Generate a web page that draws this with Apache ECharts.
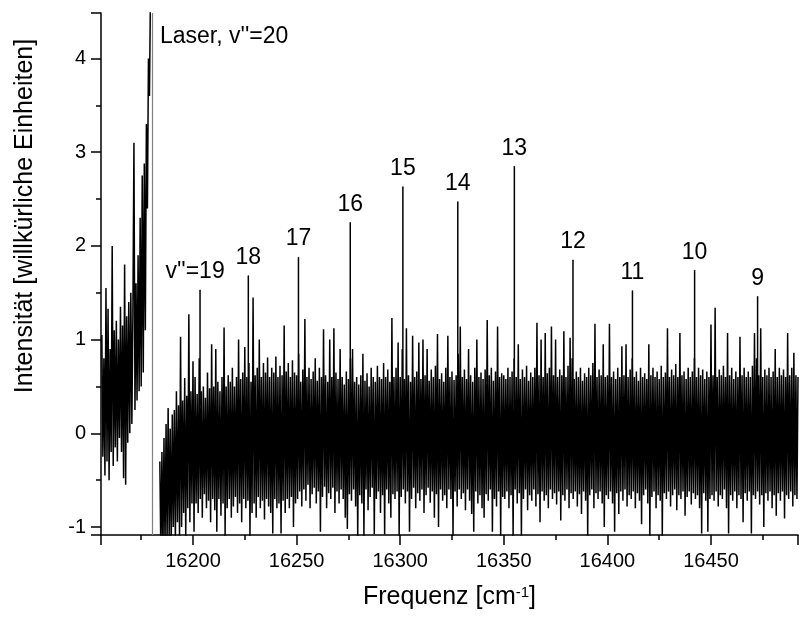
<!DOCTYPE html>
<html>
<head>
<meta charset="utf-8">
<style>
  html, body { width: 100%; height: 100%; margin: 0; background: #fff; }
  #chart-panel { width: 801px; height: 620px; }
</style>
<script src="https://cdn.jsdelivr.net/npm/echarts@6/dist/echarts.min.js"></script>
</head>
<body>
<div id="chart-panel"></div>
<script type="text/javascript">
const stepX = 0.5;

// left wing next to the laser line, 16156 .. 16179.5
const wingStart = 16156;
const wingY = [
  1.05, -0.25, 0.8, -0.45, 1.55, -0.3, 1.33, -0.5, 0.9, -0.2, 2.0, -0.35, 1.1, -0.15, 1.2, -0.3,
  1.0, -0.05, 1.35, -0.2, 1.15, -0.48, 1.8, -0.55, 1.25, -0.1, 1.4, 0.0, 1.5, 0.1, 1.3, 3.1,
  0.25, 1.6, 0.35, 1.9, 0.45, 2.3, 0.5, 2.75, 0.65, 2.88, 1.1, 3.3, 2.4, 4.0, 3.6, 4.8
];

// main band, starts at 16184
const bandStart = 16184;
const bandRise = [
  -0.3, -1.3, -0.2, -1.25, -0.05, -1.2, 0.1, -1.15, 0.27, -1.1, 0.05, -1.2, 0.2, -1.0, 0.25, -1.15,
  0.45, -0.95, 0.3, -1.1, 1.03, -1.0, 0.35, -0.85, 0.59, -1.1, 0.4, -0.8, 1.27, -0.95, 0.45, -0.75
];
const band16200 = [
  0.77, -1.05, 0.6, -0.75, 0.42, -0.85, 0.8, -0.7, 0.45, -0.9, 0.5, -0.65, 0.38, -0.8, 0.65, -0.72, 0.48, -0.95, 0.95, -0.7,
  0.5, -0.82, 0.9, -1.05, 0.55, -0.7, 0.45, -0.88, 0.6, -0.75, 1.13, -1.1, 0.5, -0.8, 0.62, -0.7, 0.55, -0.9, 0.7, -0.78,
  0.5, -0.68, 0.6, -0.85, 1.0, -0.75, 0.58, -0.95, 0.65, -0.7, 0.92, -0.8, 0.6, -0.72, 0.75, -1.1, 0.55, -0.85, 1.45, -0.75,
  0.62, -0.9, 0.7, -0.68, 1.0, -0.8, 0.6, -0.72, 0.75, -0.92, 0.65, -0.7, 0.81, -0.78, 0.6, -0.85, 0.7, -1.07, 0.65, -0.7,
  0.82, -0.8, 0.6, -0.75, 0.72, -1.07, 0.62, -0.72, 1.15, -0.85, 0.66, -0.7, 0.75, -0.8, 0.6, -0.68, 0.78, -1.0, 0.65, -0.75
];
const band16250 = [
  0.62, -0.7, 0.85, -0.62, 0.55, -0.78, 0.68, -0.6, 1.22, -0.72, 0.6, -0.55, 0.7, -0.8, 0.58, -0.65, 0.66, -0.58, 0.8, -0.75,
  0.56, -0.62, 0.7, -1.05, 0.6, -0.68, 1.11, -0.57, 0.62, -0.8, 0.55, -0.64, 1.0, -0.7, 0.6, -0.58, 1.12, -0.85, 0.65, -0.62,
  0.58, -0.75, 0.9, -0.6, 0.6, -0.7, 0.52, -0.9, 0.66, -1.02, 0.58, -0.65, 0.8, -0.72, 0.9, -0.6, 0.55, -0.78, 0.6, -1.1,
  0.52, -0.66, 0.62, -0.75, 0.85, -1.1, 0.56, -0.6, 0.64, -0.82, 0.5, -0.68, 0.7, -0.58, 0.6, -1.08, 0.55, -0.7, 0.72, -0.62,
  0.6, -0.85, 0.58, -0.66, 0.75, -1.08, 0.6, -0.6, 0.68, -0.75, 0.55, -0.9, 1.23, -0.65, 0.6, -0.7, 0.7, -0.62, 0.97, -1.1
];
const band16300 = [
  0.6, -0.68, 0.9, -0.6, 0.58, -0.75, 1.12, -0.62, 0.62, -1.05, 0.55, -0.7, 1.04, -0.58, 0.6, -0.8, 0.66, -0.64, 0.97, -0.72,
  0.58, -0.6, 1.0, -0.85, 0.62, -0.66, 0.9, -0.58, 0.56, -0.74, 0.68, -0.62, 0.6, -0.9, 0.72, -0.65, 1.06, -1.0, 0.58, -0.6,
  0.64, -0.72, 0.55, -0.66, 0.7, -0.8, 1.04, -0.6, 0.6, -0.7, 0.66, -1.1, 0.57, -0.62, 0.62, -0.78, 0.85, -0.6, 1.14, -0.7,
  0.6, -0.64, 0.68, -0.82, 0.58, -0.6, 0.9, -0.72, 0.62, -0.86, 0.55, -1.05, 0.7, -0.62, 1.0, -0.75, 0.6, -0.66, 0.65, -0.8,
  0.58, -0.9, 0.68, -0.65, 1.21, -0.72, 0.62, -0.6, 0.7, -1.05, 0.56, -0.7, 0.66, -0.78, 1.14, -0.62, 0.6, -1.1, 0.64, -0.68
];
const band16350 = [
  0.62, -0.7, 0.58, -0.62, 0.7, -0.8, 0.6, -0.66, 0.66, -1.1, 0.8, -0.6, 0.6, -0.75, 0.95, -0.64, 0.58, -1.1, 0.68, -0.7,
  0.6, -0.6, 0.72, -0.82, 0.56, -0.66, 0.65, -0.72, 0.6, -0.6, 0.7, -0.78, 1.18, -0.65, 0.62, -0.95, 1.0, -0.62, 0.6, -0.72,
  1.07, -0.66, 0.64, -0.8, 0.7, -0.6, 1.14, -0.7, 0.62, -0.64, 1.0, -0.76, 0.6, -0.62, 0.68, -0.93, 0.62, -0.66, 1.09, -0.72,
  0.6, -0.6, 0.72, -0.8, 1.02, -0.64, 0.8, -0.7, 0.58, -0.62, 0.66, -0.78, 0.6, -0.65, 0.7, -0.86, 0.56, -0.62, 0.64, -0.72,
  0.6, -1.1, 0.7, -0.66, 0.62, -0.6, 0.75, -0.8, 1.17, -0.64, 0.6, -0.7, 0.68, -0.62, 0.62, -0.75, 0.95, -1.0, 0.6, -0.66
];
const band16400 = [
  0.62, -0.7, 1.17, -0.62, 0.6, -0.75, 0.66, -1.05, 0.58, -0.64, 0.7, -0.86, 0.6, -0.62, 0.93, -0.72, 0.62, -0.6, 0.95, -0.78,
  0.6, -0.66, 0.68, -0.7, 0.8, -0.62, 0.6, -0.8, 0.66, -0.64, 0.56, -0.72, 0.7, -0.97, 0.6, -0.66, 0.64, -0.6, 0.58, -0.75,
  0.95, -1.1, 0.62, -0.68, 0.7, -0.62, 0.6, -0.8, 0.66, -0.66, 0.58, -0.72, 0.72, -1.1, 0.6, -0.64, 0.65, -0.7, 1.12, -0.62,
  0.6, -0.78, 0.68, -0.66, 0.62, -0.6, 0.74, -0.82, 0.6, -0.66, 1.07, -0.7, 0.62, -0.62, 0.66, -0.88, 0.58, -0.68, 0.7, -0.62,
  0.6, -0.76, 0.66, -0.64, 0.8, -0.7, 0.6, -0.66, 0.7, -0.8, 0.62, -1.07, 0.68, -0.64, 0.58, -0.72, 0.66, -1.05, 0.6, -0.7
];
const band16450 = [
  1.16, -0.66, 0.62, -0.72, 1.34, -0.62, 0.6, -0.78, 0.68, -0.66, 0.62, -0.7, 0.72, -0.6, 0.6, -0.8, 1.07, -1.07, 0.62, -0.66,
  0.7, -0.72, 0.58, -0.62, 0.66, -0.8, 0.6, -0.66, 1.03, -0.7, 0.62, -0.95, 0.7, -0.64, 0.6, -0.72, 0.66, -0.62, 0.6, -1.07,
  0.72, -0.66, 1.07, -0.7, 0.8, -0.62, 0.62, -0.76, 1.12, -0.66, 0.6, -1.0, 0.68, -0.64, 0.62, -0.72, 0.7, -0.62, 0.6, -0.8,
  0.66, -0.66, 0.9, -0.88, 0.6, -0.64, 0.7, -0.72, 0.62, -0.62, 0.68, -0.91, 0.6, -0.66, 1.07, -0.7, 0.62, -0.62, 0.7, -0.78,
  0.86, -0.66, 0.62, -0.7, 0.6
];

// assigned lines v'' and their peak heights
const peakX = [16203.4, 16226.7, 16250.9, 16275.9, 16301.3, 16327.8, 16355.1, 16383.4, 16412.1, 16442.1, 16472.5];
const peakY = [1.53, 1.68, 1.88, 2.25, 2.63, 2.47, 2.85, 1.85, 1.52, 1.74, 1.46];
const peakLabels = ["v''=19", '18', '17', '16', '15', '14', '13', '12', '11', '10', '9'];
const peakFoot = 0.3;

const laserX = 16180.5;

const font = 'Liberation Sans';

function toPoints(start, ys) {
  return ys.map((y, i) => [start + i * stepX, y]);
}

const bandY = [].concat(bandRise, band16200, band16250, band16300, band16350, band16400, band16450);

const peakData = [];
peakX.forEach(function (x, i) {
  peakData.push([x, peakFoot]);
  peakData.push([x, peakY[i]]);
  peakData.push([x, '-']);
});
const tagData = peakX.map(function (x, i) {
  return {
    value: [x, peakY[i]],
    label: { formatter: peakLabels[i], offset: i === 0 ? [-5, 0] : [0, 0] }
  };
});

const lineStyle = { color: '#000', width: 1.5, join: 'bevel' };

const chart = echarts.init(document.getElementById('chart-panel'));

const option = {
  animation: false,
  textStyle: { fontFamily: font },
  grid: { left: 101, right: 0, top: 13, bottom: 85 },
  xAxis: {
    type: 'value',
    min: 16155.6,
    max: 16492,
    splitLine: { show: false },
    axisLine: { onZero: false, lineStyle: { color: '#000', width: 1.5 } },
    axisTick: { length: 10, lineStyle: { color: '#000', width: 1.5 } },
    minorTick: { show: true, splitNumber: 2, length: 5, lineStyle: { color: '#000', width: 1.5 } },
    axisLabel: {
      color: '#000', fontSize: 20, fontFamily: font, margin: 16,
      formatter: function (v) { return Math.abs(v % 50) < 1e-6 ? String(v) : ''; }
    },
    name: 'Frequenz [cm{sup|-1}]',
    nameLocation: 'middle',
    nameGap: 50,
    nameTextStyle: {
      color: '#000', fontSize: 25, fontFamily: font,
      rich: { sup: { fontSize: 15, fontFamily: font, color: '#000', verticalAlign: 'top' } }
    }
  },
  yAxis: {
    type: 'value',
    min: -1.085,
    max: 4.485,
    splitLine: { show: false },
    axisLine: { onZero: false, lineStyle: { color: '#000', width: 1.5 } },
    axisTick: { length: 10, lineStyle: { color: '#000', width: 1.5 } },
    minorTick: { show: true, splitNumber: 2, length: 5, lineStyle: { color: '#000', width: 1.5 } },
    axisLabel: {
      color: '#000', fontSize: 20, fontFamily: font, margin: 15,
      formatter: function (v) { return Math.abs(v - Math.round(v)) < 1e-6 ? String(Math.round(v)) : ''; }
    }
  },
  graphic: [
    {
      type: 'text', x: 25, y: 216, rotation: Math.PI / 2,
      style: {
        text: 'Intensität [willkürliche Einheiten]', fontSize: 25, fontFamily: font, fill: '#000',
        align: 'center', verticalAlign: 'middle', textAlign: 'center', textVerticalAlign: 'middle'
      }
    },
    {
      type: 'text', x: 160, y: 37,
      style: {
        text: "Laser, v''=20", fontSize: 23, fontFamily: font, fill: '#000',
        verticalAlign: 'middle', textVerticalAlign: 'middle'
      }
    }
  ],
  series: [
    {
      name: 'wing',
      type: 'line',
      showSymbol: false,
      silent: true,
      data: toPoints(wingStart, wingY),
      lineStyle: lineStyle,
      markLine: {
        symbol: 'none',
        silent: true,
        label: { show: false },
        lineStyle: { color: '#808080', width: 1.2, type: 'solid' },
        data: [{ xAxis: laserX }]
      }
    },
    {
      name: 'band',
      type: 'line',
      showSymbol: false,
      silent: true,
      data: toPoints(bandStart, bandY),
      lineStyle: lineStyle
    },
    {
      name: 'peaks',
      type: 'line',
      showSymbol: false,
      silent: true,
      connectNulls: false,
      data: peakData,
      lineStyle: { color: '#000', width: 1.5 }
    },
    {
      name: 'tags',
      type: 'scatter',
      silent: true,
      symbolSize: 1,
      itemStyle: { color: '#000', opacity: 1 },
      data: tagData,
      label: {
        show: true, position: 'top', distance: 6, color: '#000', opacity: 1,
        fontSize: 23, fontFamily: font, textBorderWidth: 0
      }
    }
  ]
};

chart.setOption(option);
</script>
</body>
</html>
